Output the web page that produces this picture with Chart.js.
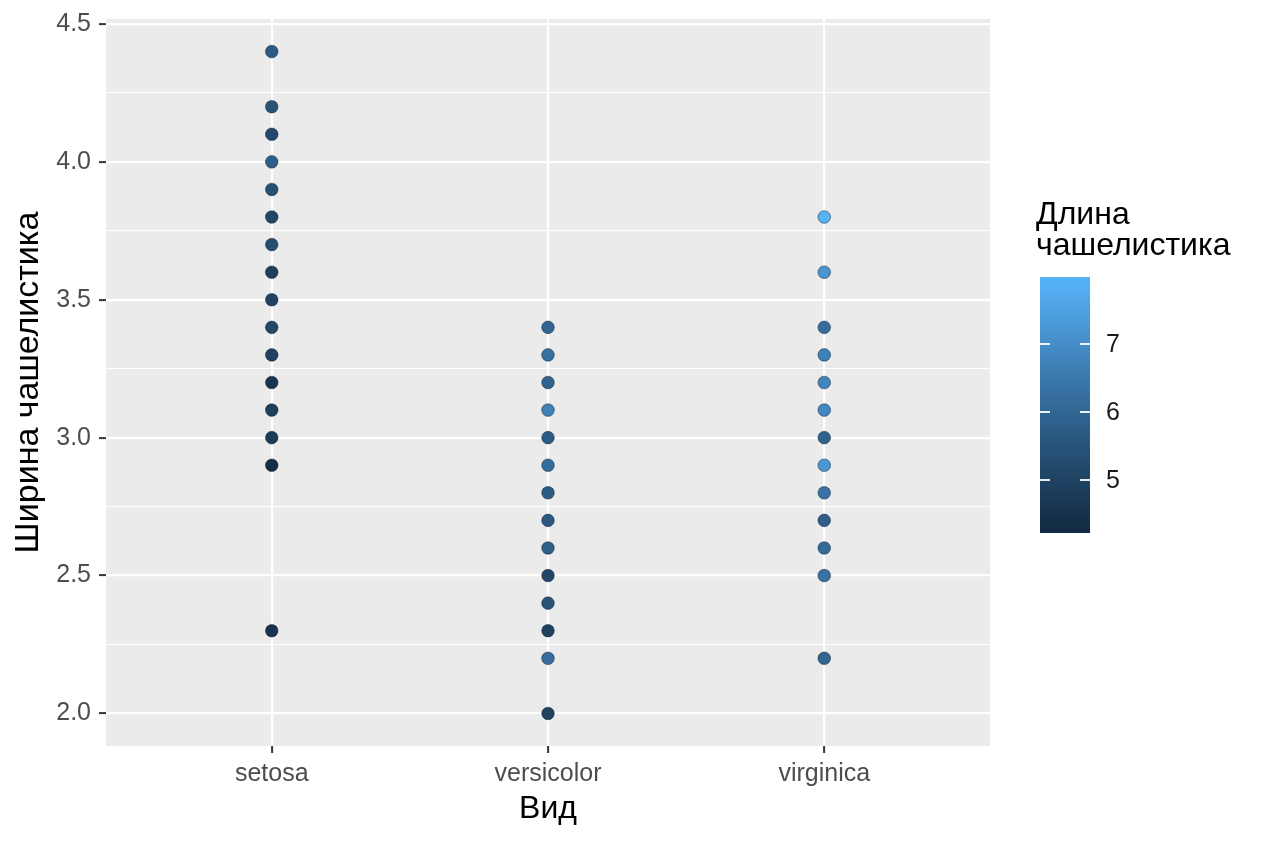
<!DOCTYPE html>
<html>
<head>
<meta charset="utf-8">
<script src="https://cdn.jsdelivr.net/npm/chart.js@4"></script>
<style>
  html, body { margin: 0; padding: 0; background: #fff; }
  #wrap { width: 1264px; height: 843px; position: relative; }
</style>
</head>
<body>
<div id="wrap"><canvas id="irisChart"></canvas></div>
<script>
// Visible points (overlapping points show the last one drawn)
const species = ['setosa', 'versicolor', 'virginica'];

const setosaWidth  = [4.4, 4.2, 4.1, 4.0, 3.9, 3.8, 3.7, 3.6, 3.5, 3.4, 3.3, 3.2, 3.1, 3.0, 2.9, 2.3];
const setosaLength = [5.7, 5.5, 5.2, 5.8, 5.4, 5.1, 5.3, 4.9, 5.0, 5.1, 5.0, 4.6, 4.9, 4.8, 4.4, 4.5];

const versicolorWidth  = [3.4, 3.3, 3.2, 3.1, 3.0, 2.9, 2.8, 2.7, 2.6, 2.5, 2.4, 2.3, 2.2, 2.0];
const versicolorLength = [6.0, 6.3, 5.9, 6.7, 5.7, 6.2, 5.7, 5.6, 5.8, 5.1, 5.5, 5.0, 6.2, 5.0];

const virginicaWidth  = [3.8, 3.6, 3.4, 3.3, 3.2, 3.1, 3.0, 2.9, 2.8, 2.7, 2.6, 2.5, 2.2];
const virginicaLength = [7.9, 7.2, 6.2, 6.7, 6.8, 6.9, 5.9, 7.3, 6.3, 5.8, 6.1, 6.3, 6.0];

const yMajorTicks = [2.0, 2.5, 3.0, 3.5, 4.0, 4.5];
const yGridValues = [2.0, 2.25, 2.5, 2.75, 3.0, 3.25, 3.5, 3.75, 4.0, 4.25, 4.5];
const colourTicks = [5, 6, 7];
const colourRange = [4.3, 7.9];
const lowColour = '#132B43';
const highColour = '#56B1F7';

// --- colour gradient in Lab space (like ggplot's scale_colour_gradient) ---
function hexToRgb(h) {
    return [1, 3, 5].map(i => parseInt(h.substr(i, 2), 16));
}
function rgbToLab(rgb) {
    const lin = rgb.map(c => { c /= 255; return c <= 0.04045 ? c / 12.92 : Math.pow((c + 0.055) / 1.055, 2.4); });
    let x = (lin[0] * 0.4124 + lin[1] * 0.3576 + lin[2] * 0.1805) / 0.95047;
    let y = (lin[0] * 0.2126 + lin[1] * 0.7152 + lin[2] * 0.0722);
    let z = (lin[0] * 0.0193 + lin[1] * 0.1192 + lin[2] * 0.9505) / 1.08883;
    const f = t => t > 0.008856 ? Math.cbrt(t) : 7.787 * t + 16 / 116;
    x = f(x); y = f(y); z = f(z);
    return [116 * y - 16, 500 * (x - y), 200 * (y - z)];
}
function labToRgb(lab) {
    let y = (lab[0] + 16) / 116, x = lab[1] / 500 + y, z = y - lab[2] / 200;
    const fi = t => t * t * t > 0.008856 ? t * t * t : (t - 16 / 116) / 7.787;
    x = fi(x) * 0.95047; y = fi(y); z = fi(z) * 1.08883;
    const r = x * 3.2406 + y * -1.5372 + z * -0.4986;
    const g = x * -0.9689 + y * 1.8758 + z * 0.0415;
    const b = x * 0.0557 + y * -0.2040 + z * 1.0570;
    return [r, g, b].map(c => {
        c = c <= 0.0031308 ? 12.92 * c : 1.055 * Math.pow(c, 1 / 2.4) - 0.055;
        return Math.round(Math.max(0, Math.min(1, c)) * 255);
    });
}
const labLow = rgbToLab(hexToRgb(lowColour));
const labHigh = rgbToLab(hexToRgb(highColour));
function colourFor(v) {
    let t = (v - colourRange[0]) / (colourRange[1] - colourRange[0]);
    t = Math.max(0, Math.min(1, t));
    const lab = labLow.map((c, i) => c + (labHigh[i] - c) * t);
    const rgb = labToRgb(lab);
    return 'rgb(' + rgb.join(',') + ')';
}

function makePoints(idx, widths, lengths) {
    return widths.map((w, i) => ({ x: idx, y: w, len: lengths[i] }));
}

const allPoints = [
    ...makePoints(0, setosaWidth, setosaLength),
    ...makePoints(1, versicolorWidth, versicolorLength),
    ...makePoints(2, virginicaWidth, virginicaLength)
];

const fontFamily = 'Liberation Sans, Arial, sans-serif';
const tickFont = { family: fontFamily, size: 25 };
const titleFont = { family: fontFamily, size: 32 };

// grey panel behind the grid
const panelBg = {
    id: 'panelBg',
    beforeDraw(chart) {
        const { ctx, chartArea: a } = chart;
        ctx.save();
        ctx.fillStyle = '#EBEBEB';
        ctx.fillRect(a.left, a.top, a.right - a.left, a.bottom - a.top);
        ctx.restore();
    }
};

// colourbar legend on the right
const colourBar = {
    id: 'colourBar',
    afterDraw(chart) {
        const ctx = chart.ctx;
        const barLeft = 1040, barWidth = 50, barTop = 277, barBottom = 533;
        const yOf = v => 480 - (v - 5) * 68;
        ctx.save();
        ctx.fillStyle = '#000';
        ctx.font = '32px ' + fontFamily;
        ctx.textAlign = 'left';
        ctx.textBaseline = 'middle';
        ctx.fillText('Длина', 1036, 215);
        ctx.fillText('чашелистика', 1036, 246);

        const grad = ctx.createLinearGradient(0, barBottom, 0, barTop);
        const steps = 20;
        for (let i = 0; i <= steps; i++) {
            const y = barBottom - (barBottom - barTop) * i / steps;
            const v = 5 + (480 - y) / 68;
            grad.addColorStop(i / steps, colourFor(v));
        }
        ctx.fillStyle = grad;
        ctx.fillRect(barLeft, barTop, barWidth, barBottom - barTop);

        ctx.strokeStyle = 'rgba(255,255,255,0.9)';
        ctx.lineWidth = 1.8;
        ctx.fillStyle = '#1a1a1a';
        ctx.font = '25px ' + fontFamily;
        colourTicks.forEach(v => {
            const y = yOf(v);
            ctx.beginPath();
            ctx.moveTo(barLeft, y); ctx.lineTo(barLeft + 10, y);
            ctx.moveTo(barLeft + barWidth - 10, y); ctx.lineTo(barLeft + barWidth, y);
            ctx.stroke();
            ctx.fillText(String(v), 1106, y + 1);
        });
        ctx.restore();
    }
};

const isMajor = v => yMajorTicks.some(m => Math.abs(m - v) < 1e-6);

new Chart(document.getElementById('irisChart'), {
    type: 'scatter',
    data: {
        datasets: [{
            data: allPoints,
            pointRadius: 6.3,
            pointHoverRadius: 6.3,
            borderWidth: 1,
            pointBackgroundColor: c => colourFor(c.raw.len),
            pointBorderColor: 'rgba(10,20,35,0.45)'
        }]
    },
    options: {
        responsive: true,
        maintainAspectRatio: false,
        animation: false,
        layout: { padding: { top: 19, right: 274, bottom: 0, left: 0 } },
        plugins: {
            legend: { display: false },
            tooltip: { enabled: false }
        },
        scales: {
            x: {
                type: 'linear',
                min: -0.6,
                max: 2.6,
                afterBuildTicks: s => { s.ticks = species.map((_, i) => ({ value: i })); },
                afterFit: s => { s.height = 97; s.paddingLeft = 0; s.paddingRight = 0; },
                border: { display: false },
                grid: {
                    color: '#fff',
                    lineWidth: 2.2,
                    tickColor: '#333',
                    tickLength: 7,
                    tickWidth: 2
                },
                ticks: {
                    color: '#4D4D4D',
                    font: tickFont,
                    padding: 6,
                    callback: v => species[v]
                },
                title: {
                    display: true,
                    text: 'Вид',
                    color: '#000',
                    font: titleFont,
                    padding: { top: 4, bottom: 15 }
                }
            },
            y: {
                min: 1.882,
                max: 4.518,
                afterBuildTicks: s => { s.ticks = yGridValues.map(v => ({ value: v })); },
                afterFit: s => { s.width = 106; s.paddingTop = 0; s.paddingBottom = 0; },
                border: { display: false },
                grid: {
                    color: '#fff',
                    lineWidth: c => isMajor(c.tick.value) ? 2.2 : 1.1,
                    tickColor: c => isMajor(c.tick.value) ? '#333' : 'rgba(0,0,0,0)',
                    tickLength: 7,
                    tickWidth: 2
                },
                ticks: {
                    color: '#4D4D4D',
                    font: tickFont,
                    padding: 8,
                    callback: v => isMajor(v) ? v.toFixed(1) : ''
                },
                title: {
                    display: true,
                    text: 'Ширина чашелистика',
                    color: '#000',
                    font: { family: fontFamily, size: 34 },
                    padding: { top: 8, bottom: 4 }
                }
            }
        }
    },
    plugins: [panelBg, colourBar]
});
</script>
</body>
</html>
